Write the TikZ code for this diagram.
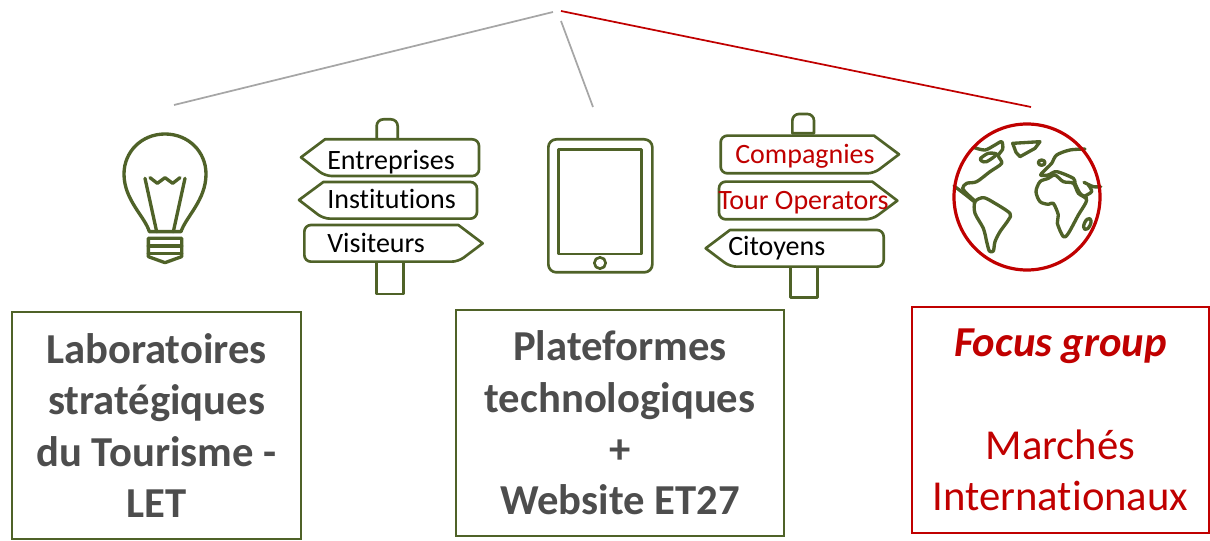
\documentclass[tikz,border=0pt]{standalone}
\usepackage{fontspec}
\setmainfont[RawFeature={-liga}]{Carlito}
\definecolor{olive}{HTML}{4F6228}
\definecolor{redd}{HTML}{C00000}
\definecolor{greyl}{HTML}{A6A6A6}
\definecolor{greyt}{HTML}{4D4D4D}
\tikzset{
 icon/.style={draw=olive,line width=2.5pt,line join=round,line cap=round},
 thin icon/.style={draw=olive,line width=2pt,line join=round},
 signtext/.style={font=\fontsize{21}{24}\selectfont,inner sep=0pt,anchor=base west},
 bigbox/.style={draw,line width=1.6pt,inner sep=0pt,align=center,text=greyt,font=\fontsize{32}{38.5}\bfseries\selectfont},
 link/.style={line width=1.3pt},
 zoomone/.style={shift={(100,110)},x=0.25pt,y=-0.25pt},
 zoomtwo/.style={shift={(530,100)},x=0.25pt,y=-0.25pt},
 zoomthree/.style={shift={(940,125)},x=0.25pt,y=-0.25pt},
}
\begin{document}
\begin{tikzpicture}[x=0.75pt,y=-0.75pt]
\useasboundingbox (0,0) rectangle (1210,541);
% top connectors
\coordinate (apexa) at (553,12);
\coordinate (apexb) at (561,21);
\coordinate (apexc) at (561,11);
\coordinate (enda) at (174,105);
\coordinate (endb) at (593,107);
\coordinate (endc) at (1031,107);
\draw[link,greyl] (apexa) -- (enda);
\draw[link,greyl] (apexb) -- (endb);
\draw[link,redd] (apexc) -- (endc);
% bulb
\begin{scope}[zoomone]
\draw[icon] (148,365) .. controls (135,320) and (72,270) .. (72,192)
  .. controls (72,125) and (125,72) .. (195,72)
  .. controls (265,72) and (318,125) .. (318,192)
  .. controls (318,270) and (258,320) .. (243,365) -- cycle;
\draw[icon] (135,205) -- (170,365);
\draw[icon] (255,205) -- (220,365);
\draw[icon] (150,203) -- (172,220) -- (195,203) -- (218,220) -- (240,203);
\draw[icon] (145,385) -- (245,385) -- (245,440) -- (195,458) -- (145,440) -- cycle;
\draw[icon] (145,408) -- (245,408);
\draw[icon] (145,430) -- (245,430);
% left sign post
\draw[thin icon] (830,85) -- (830,48) to[out=90,in=180] (850,28) -- (873,28) to[out=0,in=90] (893,48) -- (893,85);
\draw[thin icon] (830,458) -- (830,552) -- (910,552) -- (910,458);
\draw[thin icon,rounded corners=5pt] (603,142) [sharp corners] -- (675,88) [rounded corners=5pt] -- (1137,88) -- (1137,198) -- (675,198) [sharp corners] -- cycle;
\draw[thin icon,rounded corners=5pt] (597,270) [sharp corners] -- (670,216) [rounded corners=5pt] -- (1131,216) -- (1131,326) -- (670,326) [sharp corners] -- cycle;
\draw[thin icon,rounded corners=5pt] (1148,400) [sharp corners] -- (1075,345) [rounded corners=5pt] -- (613,345) -- (613,455) -- (1075,455) [sharp corners] -- cycle;
\end{scope}
\node[signtext] (entreprises) at (327,170) {Entreprises};
\node[signtext] (institutions) at (327,209) {Institutions};
\node[signtext] (visiteurs) at (327,253) {Visiteurs};
% tablet
\begin{scope}[zoomtwo]
\draw[thin icon,rounded corners=6pt] (55,118) rectangle (367,517);
\draw[thin icon] (85,148) rectangle (335,462);
\draw[thin icon] (210,489) circle[x radius=17,y radius=17];
% right sign post
\draw[thin icon] (787,100) -- (787,62) to[out=90,in=180] (807,42) -- (832,42) to[out=0,in=90] (852,62) -- (852,100) -- cycle;
\draw[thin icon] (782,503) -- (782,592) -- (862,592) -- (862,503);
\draw[thin icon,rounded corners=5pt] (1107,163) [sharp corners] -- (1032,107) [rounded corners=5pt] -- (572,107) -- (572,220) -- (1032,220) [sharp corners] -- cycle;
\draw[thin icon,rounded corners=5pt] (1102,302) [sharp corners] -- (1027,245) [rounded corners=5pt] -- (567,245) -- (567,358) -- (1027,358) [sharp corners] -- cycle;
\draw[thin icon,rounded corners=5pt] (527,445) [sharp corners] -- (600,390) [rounded corners=5pt] -- (1061,390) -- (1061,500) -- (600,500) [sharp corners] -- cycle;
\end{scope}
\node[signtext,text=redd] (compagnies) at (735,164) {Compagnies};
\node[signtext,text=redd] (tourop) at (718,210) {Tour Operators};
\node[signtext] (citoyens) at (728,256) {Citoyens};
% globe
\begin{scope}[zoomthree]
\draw[icon] plot[smooth] coordinates {(103,68) (135,75) (165,60) (185,50) (188,72) (175,92) (185,115) (150,140) (110,170) (80,175) (68,190) (85,210) (105,228)};
\draw[icon] plot[smooth] coordinates {(42,183) (75,208) (105,232)};
\draw[icon] plot[smooth cycle] coordinates {(105,230) (130,218) (160,232) (210,265) (205,285) (180,320) (165,350) (160,378) (148,378) (140,350) (130,310) (105,265)};
\draw[icon] plot[smooth cycle] coordinates {(122,100) (145,85) (170,88) (140,110) (125,108)};
\draw[icon] (218,55) -- (300,50) -- (285,70) -- (240,95) -- (228,82) -- cycle;
\draw[icon] (305,113) circle[x radius=10,y radius=8];
\draw[icon] plot[smooth] coordinates {(435,72) (390,75) (350,90) (335,115) (320,130) (302,150) (325,150) (350,140) (400,160) (405,175) (420,205) (440,218)};
\draw[icon] plot[smooth cycle] coordinates {(300,170) (288,200) (300,230) (325,238) (340,235) (355,270) (352,295) (370,335) (385,325) (415,270) (440,225) (415,205) (400,175) (370,170) (345,150) (325,160)};
\draw[icon] plot[smooth] coordinates {(432,172) (460,185) (482,185)};
\draw[icon] plot[smooth] coordinates {(445,180) (455,200) (430,215)};
\draw[icon,rotate around={-25:(442,297)}] (442,297) circle[x radius=9,y radius=18];
\end{scope}
\node[draw=redd,line width=2.4pt,circle,minimum size=109.5pt,inner sep=0pt] (globe) at (1027,197) {};
% boxes
\node[bigbox,draw=olive,minimum width=216.75pt,minimum height=170.25pt] (lab) at (156.5,425.5)
 {Laboratoires\\stratégiques\\du Tourisme -\\LET};
\node[bigbox,draw=olive,minimum width=246pt,minimum height=169.5pt] (plat) at (620,423)
 {Plateformes\\technologiques\\+\\Website ET27};
\node[bigbox,draw=redd,minimum width=222.75pt,minimum height=169.5pt,text=redd,font=\fontsize{32}{38.5}\selectfont] (focus) at (1060.5,420)
 {{\bfseries\itshape Focus group}\\ \\Marchés\\Internationaux};
\end{tikzpicture}
\end{document}
